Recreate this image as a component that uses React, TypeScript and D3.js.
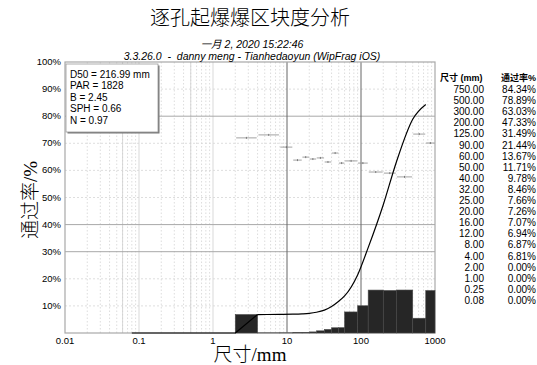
import React, { useEffect, useRef } from 'react';
import * as d3 from 'd3';

// sieve table (size in mm, cumulative passing %)
const sizes = [750, 500, 300, 200, 125, 90, 60, 50, 40, 32, 25, 20, 16, 12, 8, 4, 2, 1, 0.25, 0.08];
const passing = [84.34, 78.89, 63.03, 47.33, 31.49, 21.44, 13.67, 11.71, 9.78, 8.46, 7.66, 7.26, 7.07, 6.94, 6.87, 6.81, 0, 0, 0, 0];
const sizeLabels = ['750.00', '500.00', '300.00', '200.00', '125.00', '90.00', '60.00', '50.00', '40.00', '32.00', '25.00', '20.00', '16.00', '12.00', '8.00', '4.00', '2.00', '1.00', '0.25', '0.08'];
const passingLabels = ['84.34%', '78.89%', '63.03%', '47.33%', '31.49%', '21.44%', '13.67%', '11.71%', '9.78%', '8.46%', '7.66%', '7.26%', '7.07%', '6.94%', '6.87%', '6.81%', '0.00%', '0.00%', '0.00%', '0.00%'];

// histogram bins
const binEdges = [2, 4, 8, 12, 16, 20, 25, 32, 40, 50, 60, 90, 125, 200, 300, 500, 750, 1000];
// small horizontal markers per bin
const binMarks = [72.0, 73.1, 68.6, 63.8, 64.9, 64.2, 64.6, 63.1, 66.4, 62.7, 63.5, 62.7, 59.4, 59.0, 57.6, 73.4, 70.1];

const statLines = ['D50 = 216.99 mm', 'PAR = 1828', 'B = 2.45', 'SPH = 0.66', 'N = 0.97'];
const xTicks = [0.01, 0.1, 1, 10, 100, 1000];
const xTickLabels = ['0.01', '0.1', '1', '10', '100', '1000'];
const yTicks = [10, 20, 30, 40, 50, 60, 70, 80, 90, 100];
const darkYGrid = [80, 40, 30];

const title = '逐孔起爆爆区块度分析';
const subtitle1 = '一月 2, 2020 15:22:46';
const subtitle2 = '3.3.26.0  -  danny meng - Tianhedaoyun (WipFrag iOS)';

const W = 537;
const H = 365;
const SANS = 'Liberation Sans, Arial, sans-serif';
const SERIF = 'Liberation Serif, Noto Sans CJK SC, serif';

const App: React.FC = () => {
  const svgRef = useRef<SVGSVGElement>(null);

  useEffect(() => {
    if (!svgRef.current) return;
    const svg = d3.select(svgRef.current);
    svg.selectAll('*').remove();

    const x = d3.scaleLog().domain([0.01, 1000]).range([65, 435]);
    const y = d3.scaleLinear().domain([0, 100]).range([333, 62]);

    svg.append('rect').attr('width', W).attr('height', H).attr('fill', '#fff');

    // minor log grid
    const minor: number[] = [];
    for (let e = -2; e < 3; e++) {
      for (let k = 2; k < 10; k++) minor.push(k * Math.pow(10, e));
    }
    svg.append('g')
      .selectAll('line')
      .data(minor)
      .enter()
      .append('line')
      .attr('x1', d => x(d))
      .attr('x2', d => x(d))
      .attr('y1', y(100))
      .attr('y2', y(0))
      .attr('stroke', '#d4d4d4')
      .attr('stroke-width', 0.8)
      .attr('stroke-dasharray', '1.5,2');

    // odd solid verticals seen in the scan
    svg.append('g')
      .selectAll('line')
      .data([0.06, 0.1, 0.5, 1])
      .enter()
      .append('line')
      .attr('x1', d => x(d))
      .attr('x2', d => x(d))
      .attr('y1', y(100))
      .attr('y2', y(0))
      .attr('stroke', '#cfcfcf')
      .attr('stroke-width', 0.8);

    // horizontal grid
    svg.append('g')
      .selectAll('line')
      .data(yTicks.slice(0, -1))
      .enter()
      .append('line')
      .attr('x1', x(0.01))
      .attr('x2', x(1000))
      .attr('y1', d => y(d))
      .attr('y2', d => y(d))
      .attr('stroke', d => (darkYGrid.includes(d) ? '#a8a8a8' : '#d6d6d6'))
      .attr('stroke-width', d => (darkYGrid.includes(d) ? 1 : 0.8))
      .attr('stroke-dasharray', d => (darkYGrid.includes(d) ? null : '2,2'));

    // decade lines
    svg.append('g')
      .selectAll('line')
      .data([10, 100])
      .enter()
      .append('line')
      .attr('x1', d => x(d))
      .attr('x2', d => x(d))
      .attr('y1', y(100))
      .attr('y2', y(0))
      .attr('stroke', '#666')
      .attr('stroke-width', 1);

    // plot frame
    svg.append('rect')
      .attr('x', x(0.01))
      .attr('y', y(100))
      .attr('width', x(1000) - x(0.01))
      .attr('height', y(0) - y(100))
      .attr('fill', 'none')
      .attr('stroke', '#a8a8a8')
      .attr('stroke-width', 1.2);

    // histogram from cumulative table
    const cum = new Map<number, number>(sizes.map((s, i) => [s, passing[i]]));
    cum.set(1000, 100);
    const bins = binEdges.slice(0, -1).map((lo, i) => {
      const hi = binEdges[i + 1];
      return { lo, hi, v: (cum.get(hi) || 0) - (cum.get(lo) || 0), mark: binMarks[i] };
    });
    svg.append('g')
      .selectAll('rect')
      .data(bins)
      .enter()
      .append('rect')
      .attr('x', d => x(d.lo))
      .attr('y', d => y(d.v))
      .attr('width', d => x(d.hi) - x(d.lo))
      .attr('height', d => y(0) - y(d.v))
      .attr('fill', '#262626')
      .attr('stroke', '#4a4a4a')
      .attr('stroke-width', 0.6);

    // per-bin markers
    const marks = svg.append('g');
    bins.forEach(b => {
      const pad = (x(b.hi) - x(b.lo)) * 0.04;
      marks.append('line')
        .attr('x1', x(b.lo) + pad)
        .attr('x2', x(b.hi) - pad)
        .attr('y1', y(b.mark))
        .attr('y2', y(b.mark))
        .attr('stroke', '#8a8a8a')
        .attr('stroke-width', 0.8);
      const mid = Math.sqrt(b.lo * b.hi);
      marks.append('line')
        .attr('x1', x(mid))
        .attr('x2', x(mid))
        .attr('y1', y(b.mark) - 1)
        .attr('y2', y(b.mark) + 1)
        .attr('stroke', '#666')
        .attr('stroke-width', 0.8);
    });

    // cumulative curve: straight below 4 mm, smoothed above
    const pts = sizes.map((s, i) => [s, passing[i]] as [number, number]).reverse();
    const lowPts = pts.filter(d => d[0] <= 4);
    const highPts = pts.filter(d => d[0] >= 4);
    const lowLine = d3.line<[number, number]>()
      .x(d => x(d[0]))
      .y(d => y(d[1]));
    const highLine = d3.line<[number, number]>()
      .x(d => x(d[0]))
      .y(d => y(d[1]))
      .curve(d3.curveMonotoneX);
    [lowLine(lowPts), highLine(highPts)].forEach(dStr => {
      svg.append('path')
        .attr('d', dStr)
        .attr('fill', 'none')
        .attr('stroke', '#000')
        .attr('stroke-width', 1.2)
        .attr('stroke-linejoin', 'round');
    });

    // y tick labels
    svg.append('g')
      .selectAll('text')
      .data(yTicks)
      .enter()
      .append('text')
      .attr('x', 61)
      .attr('y', d => y(d) + 3)
      .attr('text-anchor', 'end')
      .attr('fill', '#000')
      .style('font-family', SANS)
      .style('font-size', '9.5px')
      .text(d => `${d}%`);

    // x tick labels
    svg.append('g')
      .selectAll('text')
      .data(xTicks)
      .enter()
      .append('text')
      .attr('x', d => x(d))
      .attr('y', 344)
      .attr('text-anchor', 'middle')
      .attr('fill', '#000')
      .style('font-family', SANS)
      .style('font-size', '9.5px')
      .text((d, i) => xTickLabels[i]);

    // stats box
    const box = svg.append('g').attr('transform', 'translate(66,64)');
    box.append('rect').attr('x', 1.5).attr('y', 1.5).attr('width', 92).attr('height', 68).attr('fill', '#777');
    box.append('rect').attr('width', 92).attr('height', 68).attr('fill', '#fff').attr('stroke', '#999').attr('stroke-width', 0.8);
    box.selectAll('text')
      .data(statLines)
      .enter()
      .append('text')
      .attr('x', 4)
      .attr('y', (d, i) => 14 + i * 11.4)
      .attr('fill', '#000')
      .style('font-family', SANS)
      .style('font-size', '10px')
      .text(d => d);

    // right table
    const table = svg.append('g');
    table.append('text')
      .attr('x', 440).attr('y', 81)
      .attr('fill', '#000')
      .style('font-family', 'Liberation Sans, Noto Sans CJK SC, sans-serif')
      .style('font-size', '9px')
      .style('font-weight', 'bold')
      .text('尺寸 (mm)');
    table.append('text')
      .attr('x', 536).attr('y', 81)
      .attr('text-anchor', 'end')
      .attr('fill', '#000')
      .style('font-family', 'Liberation Sans, Noto Sans CJK SC, sans-serif')
      .style('font-size', '9px')
      .style('font-weight', 'bold')
      .text('通过率%');
    sizeLabels.forEach((s, i) => {
      const ty = 93 + i * 11.1;
      table.append('text')
        .attr('x', 484).attr('y', ty)
        .attr('text-anchor', 'end')
        .attr('fill', '#000')
        .style('font-family', SANS)
        .style('font-size', '10px')
        .text(s);
      table.append('text')
        .attr('x', 536).attr('y', ty)
        .attr('text-anchor', 'end')
        .attr('fill', '#000')
        .style('font-family', SANS)
        .style('font-size', '10px')
        .text(passingLabels[i]);
    });

    // titles
    svg.append('text')
      .attr('x', 250).attr('y', 25)
      .attr('text-anchor', 'middle')
      .attr('fill', '#000')
      .style('font-family', SERIF)
      .style('font-size', '20px')
      .style('font-weight', 300)
      .text(title);
    svg.append('text')
      .attr('x', 252).attr('y', 48)
      .attr('text-anchor', 'middle')
      .attr('fill', '#000')
      .style('font-family', 'Liberation Sans, Noto Sans CJK SC, sans-serif')
      .style('font-size', '10.5px')
      .style('font-style', 'italic')
      .text(subtitle1);
    svg.append('text')
      .attr('x', 252).attr('y', 60)
      .attr('text-anchor', 'middle')
      .attr('fill', '#000')
      .style('font-family', SANS)
      .style('font-size', '10.5px')
      .style('font-style', 'italic')
      .style('white-space', 'pre')
      .text(subtitle2);

    // axis titles
    svg.append('text')
      .attr('x', 250).attr('y', 361)
      .attr('text-anchor', 'middle')
      .attr('fill', '#000')
      .style('font-family', SERIF)
      .style('font-size', '19px')
      .style('font-weight', 300)
      .text('尺寸/mm');
    svg.append('text')
      .attr('transform', 'translate(37,200) rotate(-90)')
      .attr('text-anchor', 'middle')
      .attr('fill', '#000')
      .style('font-family', SERIF)
      .style('font-size', '19px')
      .style('font-weight', 300)
      .text('通过率/%');
  }, []);

  return (
    <svg
      ref={svgRef}
      width={W}
      height={H}
      style={{ position: 'absolute', left: 0, top: 0 }}
    />
  );
};

export default App;
